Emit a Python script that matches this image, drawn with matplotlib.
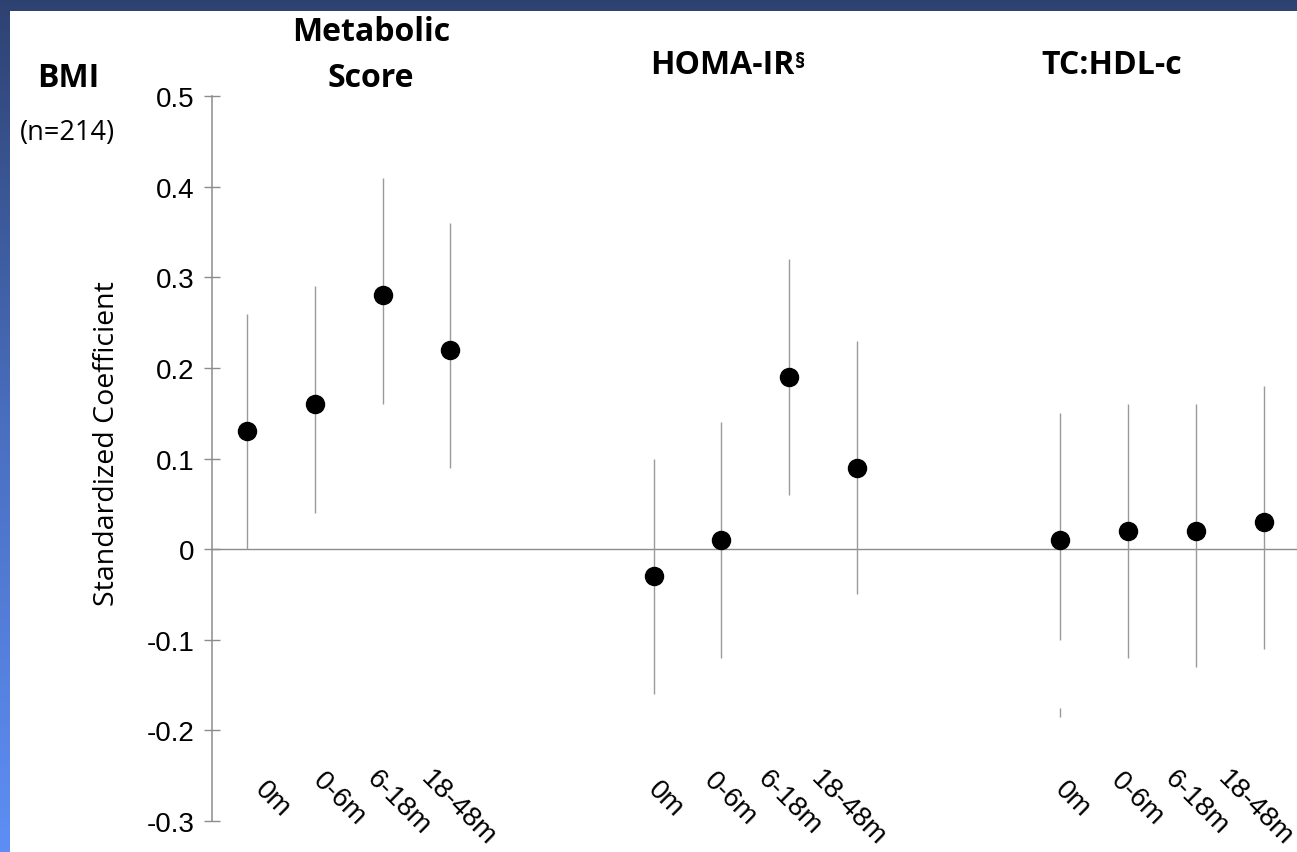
import matplotlib
matplotlib.use("Agg")
import matplotlib.pyplot as plt
import numpy as np
from matplotlib.colors import LinearSegmentedColormap
from matplotlib.patches import Rectangle

# standardized coefficients of BMI (n=214) per growth period, per outcome
OUTCOMES = ["Metabolic\nScore", "HOMA-IR", "TC:HDL-c"]
PERIODS = ["0m", "0-6m", "6-18m", "18-48m"]
COEF = [
    [0.13, 0.16, 0.28, 0.22],
    [-0.03, 0.01, 0.19, 0.09],
    [0.01, 0.02, 0.02, 0.03],
]
CI_LO = [
    [0.00, 0.04, 0.16, 0.09],
    [-0.16, -0.12, 0.06, -0.05],
    [-0.10, -0.12, -0.13, -0.11],
]
CI_HI = [
    [0.26, 0.29, 0.41, 0.36],
    [0.10, 0.14, 0.32, 0.23],
    [0.15, 0.16, 0.16, 0.18],
]
# leftover whisker fragment under TC:HDL-c / 0m in the source slide
STRAY_LO, STRAY_HI = -0.185, -0.175

YTICKS = [0.5, 0.4, 0.3, 0.2, 0.1, 0.0, -0.1, -0.2, -0.3]
YTICKLABELS = ["0.5", "0.4", "0.3", "0.2", "0.1", "0", "-0.1", "-0.2", "-0.3"]

GROUP_STEP = 6                       # x slots between outcome groups
LABEL_DX = [[26, 24, 16, 8], [12, 9, 0, -9], [12, 9, 0, -9]]   # px nudges
LABEL_DY = [22, 23, 19, 14]

W, H = 1297, 853
NAVY = "#2E4272"
CAL = ["Open Sans", "DejaVu Sans"]
ARIAL = ["Liberation Sans", "DejaVu Sans"]
GREY = "#9a9a9a"


def px(x, y):
    return x / W, 1 - y / H


fig = plt.figure(figsize=(W / 100, H / 100), dpi=100)

# slide background: blue gradient frame, white content area
bg = fig.add_axes([0, 0, 1, 1])
cmap = LinearSegmentedColormap.from_list("slide", [NAVY, "#4A6FC0", "#5E8EF5"])
bg.imshow(np.linspace(0, 1, 256)[:, None], aspect="auto", cmap=cmap,
          extent=[0, 1, 0, 1])
bg.add_patch(Rectangle((10 / W, 0), 1, 1 - 12 / H, color="white", lw=0))
bg.set_xlim(0, 1)
bg.set_ylim(0, 1)
bg.axis("off")

ax = fig.add_axes([212 / W, 31 / H, 1 - 212 / W, 725 / H])
ax.patch.set_alpha(0)

for g in range(len(OUTCOMES)):
    xs = np.arange(len(PERIODS)) + g * GROUP_STEP
    ax.vlines(xs, CI_LO[g], CI_HI[g], color=GREY, lw=1.0, zorder=2)
    ax.plot(xs, COEF[g], "o", color="black", ms=13, zorder=3)
    for j, lab in enumerate(PERIODS):
        ax.annotate(lab, xy=(xs[j], 0), xycoords=("data", "axes fraction"),
                    xytext=(LABEL_DX[g][j], LABEL_DY[j]),
                    textcoords="offset pixels", rotation=-45,
                    ha="center", va="center", fontsize=20, family=ARIAL)

ax.vlines([2 * GROUP_STEP], [STRAY_LO], [STRAY_HI], color=GREY, lw=1.0)
ax.axhline(0, color="#8c8c8c", lw=1.0, zorder=1)

ax.set_xlim(-0.516, 15.49)
ax.set_ylim(-0.3, 0.5)
ax.set_xticks([])
ax.set_yticks(YTICKS)
ax.set_yticklabels(YTICKLABELS, family=ARIAL, fontsize=20)
ax.tick_params(axis="y", direction="inout", length=11.5, width=1.0,
               color="#8c8c8c", pad=7)
for s in ("top", "right", "bottom"):
    ax.spines[s].set_visible(False)
ax.spines["left"].set_color("#8c8c8c")
ax.spines["left"].set_linewidth(1.1)
ax.set_ylabel("Standardized Coefficient", family=CAL, fontsize=20.5)
ax.yaxis.set_label_coords(121 / W, 1 - 444 / H, transform=fig.transFigure)

# panel headings
fig.text(*px(68, 87), "BMI", family=CAL, weight="bold", fontsize=23,
         ha="center", va="baseline")
fig.text(*px(67, 140), "(n=214)", family=CAL, fontsize=19.5,
         ha="center", va="baseline")
fig.text(*px(371, 41), OUTCOMES[0].split("\n")[0], family=CAL, weight="bold",
         fontsize=23, ha="center", va="baseline")
fig.text(*px(371, 87), OUTCOMES[0].split("\n")[1], family=CAL, weight="bold",
         fontsize=23, ha="center", va="baseline")
homa = fig.text(*px(722, 74), OUTCOMES[1], family=CAL, weight="bold",
                fontsize=23, ha="center", va="baseline")
fig.text(*px(1112, 74), OUTCOMES[2], family=CAL, weight="bold", fontsize=23,
         ha="center", va="baseline")
fig.canvas.draw()
bb = homa.get_window_extent()
fig.text(bb.x1 / W + 1 / W, bb.y1 / H - 3 / H, "§", family=CAL, weight="bold",
         fontsize=15, ha="left", va="top")

fig.savefig("out.png", dpi=100)
